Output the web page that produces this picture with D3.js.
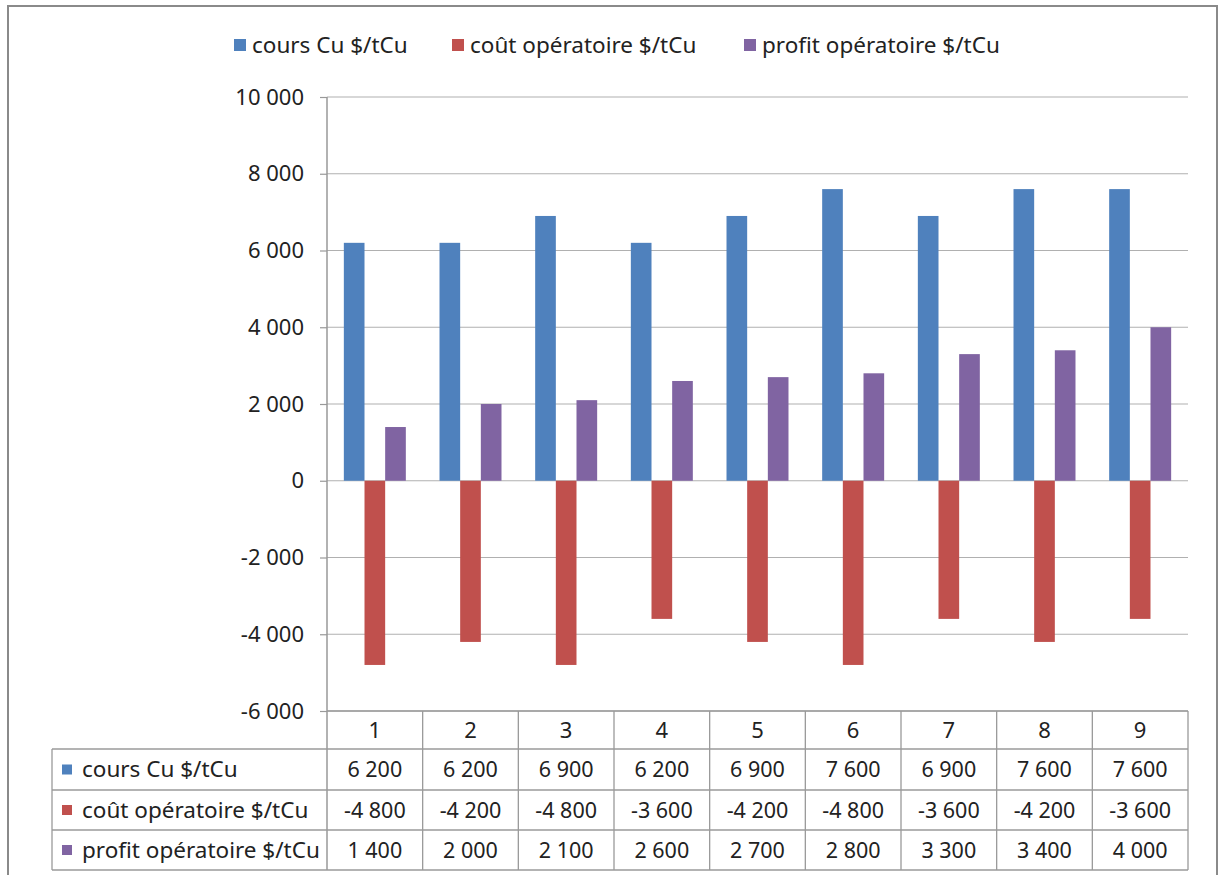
<!DOCTYPE html>
<html>
<head>
<meta charset="utf-8">
<script src="https://cdn.jsdelivr.net/npm/d3@7"></script>
<style>
  body { margin: 0; background: #fff; }
  text { font-family: "Noto Sans", sans-serif; fill: #222; }
</style>
</head>
<body>
<div class="chart"></div>
<script>
var svgWidth = 1222;
var svgHeight = 875;

// data
var categories = ["1", "2", "3", "4", "5", "6", "7", "8", "9"];
var seriesNames = ["cours Cu $/tCu", "coût opératoire $/tCu", "profit opératoire $/tCu"];
var coursCu = [6200, 6200, 6900, 6200, 6900, 7600, 6900, 7600, 7600];
var coutOp = [-4800, -4200, -4800, -3600, -4200, -4800, -3600, -4200, -3600];
var profitOp = [1400, 2000, 2100, 2600, 2700, 2800, 3300, 3400, 4000];
var yTicks = [10000, 8000, 6000, 4000, 2000, 0, -2000, -4000, -6000];

var seriesValues = [coursCu, coutOp, profitOp];
var colors = ["#4F81BD", "#C0504D", "#8064A2"];

var plot = { left: 327, right: 1188, top: 97, bottom: 711 };
var rowH = [38, 41, 40, 40];
var tableLeft = 52;

var locale = d3.formatLocale({ decimal: ",", thousands: " ", grouping: [3], currency: ["", "$"], minus: "-" });
var fmt = locale.format(",");

var svg = d3.select(".chart")
    .append("svg")
    .attr("width", svgWidth)
    .attr("height", svgHeight);

svg.append("rect")
    .attr("x", 8).attr("y", 6)
    .attr("width", 1209).attr("height", 900)
    .attr("fill", "#fff")
    .attr("stroke", "#8a8a8a")
    .attr("stroke-width", 2);

var x = d3.scaleBand()
    .domain(categories)
    .range([plot.left, plot.right])
    .paddingInner(0).paddingOuter(0);

var xSub = d3.scaleBand()
    .domain(d3.range(seriesNames.length))
    .range([0, x.bandwidth()])
    .paddingInner(0)
    .paddingOuter(0.815);

var y = d3.scaleLinear()
    .domain([-6000, 10000])
    .range([plot.bottom, plot.top]);

// gridlines
svg.append("g")
    .selectAll("line")
    .data(yTicks)
    .enter()
    .append("line")
    .attr("x1", plot.left).attr("x2", plot.right)
    .attr("y1", d => y(d)).attr("y2", d => y(d))
    .attr("stroke", "#b0b0b0")
    .attr("stroke-width", 1.2);

// y axis
var leftAxis = d3.axisLeft(y)
    .tickValues(yTicks)
    .tickFormat(fmt)
    .tickSize(7)
    .tickPadding(16);

var yAxis = svg.append("g")
    .attr("transform", `translate(${plot.left}, 0)`)
    .call(leftAxis);
yAxis.select(".domain").remove();
yAxis.selectAll(".tick line").attr("stroke", "#999").attr("stroke-width", 1.2);
yAxis.selectAll(".tick text")
    .style("font-family", "'Noto Sans', sans-serif")
    .style("font-size", "22px")
    .attr("fill", "#222");

// bars
seriesValues.forEach(function(vals, si) {
    svg.append("g")
        .selectAll("rect")
        .data(vals)
        .enter()
        .append("rect")
        .attr("x", (d, i) => x(categories[i]) + xSub(si))
        .attr("width", xSub.bandwidth())
        .attr("y", d => y(Math.max(0, d)))
        .attr("height", d => Math.abs(y(d) - y(0)))
        .attr("fill", colors[si]);
});

// vertical axis line (down through the table)
var tableTop = plot.bottom;
var rowY = [tableTop];
rowH.forEach(function(h, i) { rowY.push(rowY[i] + h); });
var tableBottom = rowY[rowY.length - 1];

svg.append("line")
    .attr("x1", plot.left).attr("x2", plot.left)
    .attr("y1", plot.top).attr("y2", tableBottom)
    .attr("stroke", "#999").attr("stroke-width", 1.5);

// data table
var table = svg.append("g").attr("stroke", "#9a9a9a").attr("stroke-width", 1.3);

rowY.forEach(function(ry, i) {
    table.append("line")
        .attr("x1", i === 0 ? plot.left : tableLeft)
        .attr("x2", plot.right)
        .attr("y1", ry).attr("y2", ry);
});
table.append("line")
    .attr("x1", tableLeft).attr("x2", tableLeft)
    .attr("y1", rowY[1]).attr("y2", tableBottom);
categories.forEach(function(c) {
    table.append("line")
        .attr("x1", x(c) + x.bandwidth()).attr("x2", x(c) + x.bandwidth())
        .attr("y1", tableTop).attr("y2", tableBottom);
});

// header numbers
svg.append("g")
    .selectAll("text")
    .data(categories)
    .enter()
    .append("text")
    .attr("x", d => x(d) + x.bandwidth() / 2)
    .attr("y", (rowY[0] + rowY[1]) / 2)
    .attr("dy", "0.35em")
    .attr("text-anchor", "middle")
    .style("font-size", "22px")
    .text(d => d);

// rows
seriesNames.forEach(function(name, si) {
    var cy = (rowY[si + 1] + rowY[si + 2]) / 2;
    svg.append("rect")
        .attr("x", 62).attr("y", cy - 5)
        .attr("width", 10).attr("height", 10)
        .attr("fill", colors[si]);
    svg.append("text")
        .attr("x", 82).attr("y", cy)
        .attr("dy", "0.35em")
        .style("font-size", "22.5px")
        .text(name);
    svg.append("g")
        .selectAll("text")
        .data(seriesValues[si])
        .enter()
        .append("text")
        .attr("x", (d, i) => x(categories[i]) + x.bandwidth() / 2)
        .attr("y", cy)
        .attr("dy", "0.35em")
        .attr("text-anchor", "middle")
        .style("font-size", "21.5px")
        .text(d => fmt(d));
});

// legend
var legendX = [234, 452, 744];
var legend = svg.append("g");
seriesNames.forEach(function(name, si) {
    legend.append("rect")
        .attr("x", legendX[si]).attr("y", 39)
        .attr("width", 12).attr("height", 12)
        .attr("fill", colors[si]);
    legend.append("text")
        .attr("x", legendX[si] + 18).attr("y", 45)
        .attr("dy", "0.35em")
        .style("font-size", "22.5px")
        .text(name);
});
</script>
</body>
</html>
